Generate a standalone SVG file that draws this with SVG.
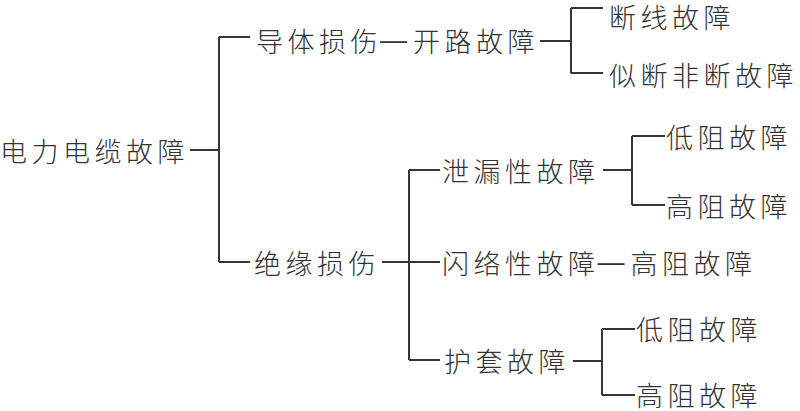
<svg xmlns="http://www.w3.org/2000/svg" width="800" height="411" viewBox="0 0 800 411">
<style>
text{font-family:"Noto Sans CJK SC","Noto Sans CJK JP",sans-serif;font-size:27px;font-weight:300;letter-spacing:4.5px;fill:#333;dominant-baseline:central}
.d{font-family:"Liberation Sans",sans-serif;font-weight:400;letter-spacing:0}
.c path{fill:none;stroke:#3a3333;stroke-width:2}
</style>
<rect width="800" height="411" fill="#fff"/>
<g class="c" id="connectors">
<path d="M190 150H219M219 37V262M219 37H250M219 262H250"/>
<path d="M540 41H571M571 8V73M571 8H603M571 73H603"/>
<path d="M382 262H409M409 170V360M409 170H440M409 262H440M409 360H440"/>
<path d="M603 170H632M632 136V205M632 136H665M632 205H665"/>
<path d="M573 361H602M602 329V395M602 329H635M602 395H635"/>
</g>
<g id="root"><text x="0" y="150">电力电缆故障</text></g>
<g id="conductor"><text x="256" y="40">导体损伤<tspan class="d" dx="-2">—</tspan><tspan dx="6">开路故障</tspan></text></g>
<g id="break"><text x="609" y="16">断线故障</text></g>
<g id="pseudo"><text x="609" y="74">似断非断故障</text></g>
<g id="insulation"><text x="254" y="262">绝缘损伤</text></g>
<g id="leak"><text x="442" y="170">泄漏性故障</text></g>
<g id="leak-low"><text x="666" y="136">低阻故障</text></g>
<g id="leak-high"><text x="666" y="205">高阻故障</text></g>
<g id="flash"><text x="442" y="262">闪络性故障<tspan class="d" dx="-2">—</tspan><tspan dx="6">高阻故障</tspan></text></g>
<g id="sheath"><text x="444" y="360">护套故障</text></g>
<g id="sheath-low"><text x="636" y="328">低阻故障</text></g>
<g id="sheath-high"><text x="636" y="394">高阻故障</text></g>
</svg>
